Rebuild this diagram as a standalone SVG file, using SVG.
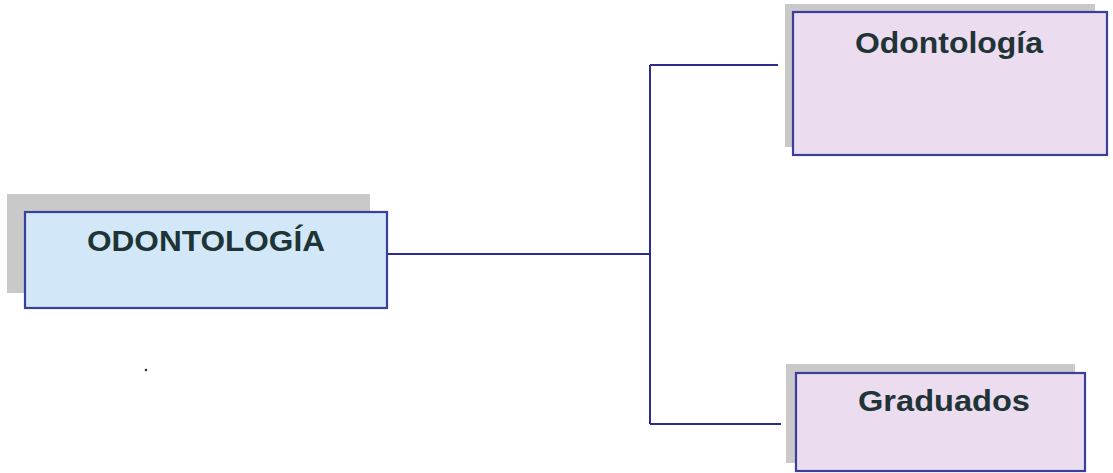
<svg xmlns="http://www.w3.org/2000/svg" width="1113" height="473" viewBox="0 0 1113 473">
<style>
.shadow{fill:#c9c9c9;}
.box{stroke:#3a3f9a;stroke-width:2.2;}
.blue{fill:#d2e8f8;}
.pink{fill:#ecdcf0;}
.lbl{font-family:"Liberation Sans",Arial,sans-serif;font-weight:bold;font-size:29px;fill:#1f3436;}
.conn{fill:none;stroke:#2c2c8c;stroke-width:2;}
</style>
<rect width="1113" height="473" fill="#ffffff"/>
<g id="connectors">
<path class="conn" d="M387 254 H650"/>
<path class="conn" d="M650 65 V424"/>
<path class="conn" d="M650 65 H778"/>
<path class="conn" d="M650 424 H781"/>
</g>
<g id="node-odontologia-main">
<rect class="shadow" x="7" y="194" width="363" height="99"/>
<rect class="box blue" x="25" y="212" width="362" height="96"/>
<text class="lbl" x="87" y="251" textLength="238" lengthAdjust="spacingAndGlyphs">ODONTOLOGÍA</text>
</g>
<g id="node-odontologia">
<rect class="shadow" x="785" y="4" width="310" height="143"/>
<rect class="box pink" x="793" y="12" width="314" height="143"/>
<text class="lbl" x="855" y="53" textLength="188" lengthAdjust="spacingAndGlyphs">Odontología</text>
</g>
<g id="node-graduados">
<rect class="shadow" x="786" y="364" width="289" height="99"/>
<rect class="box pink" x="796" y="373" width="289" height="98"/>
<text class="lbl" x="858" y="411" textLength="172" lengthAdjust="spacingAndGlyphs">Graduados</text>
</g>
<circle cx="146" cy="370" r="1.3" fill="#333333"/>
</svg>
